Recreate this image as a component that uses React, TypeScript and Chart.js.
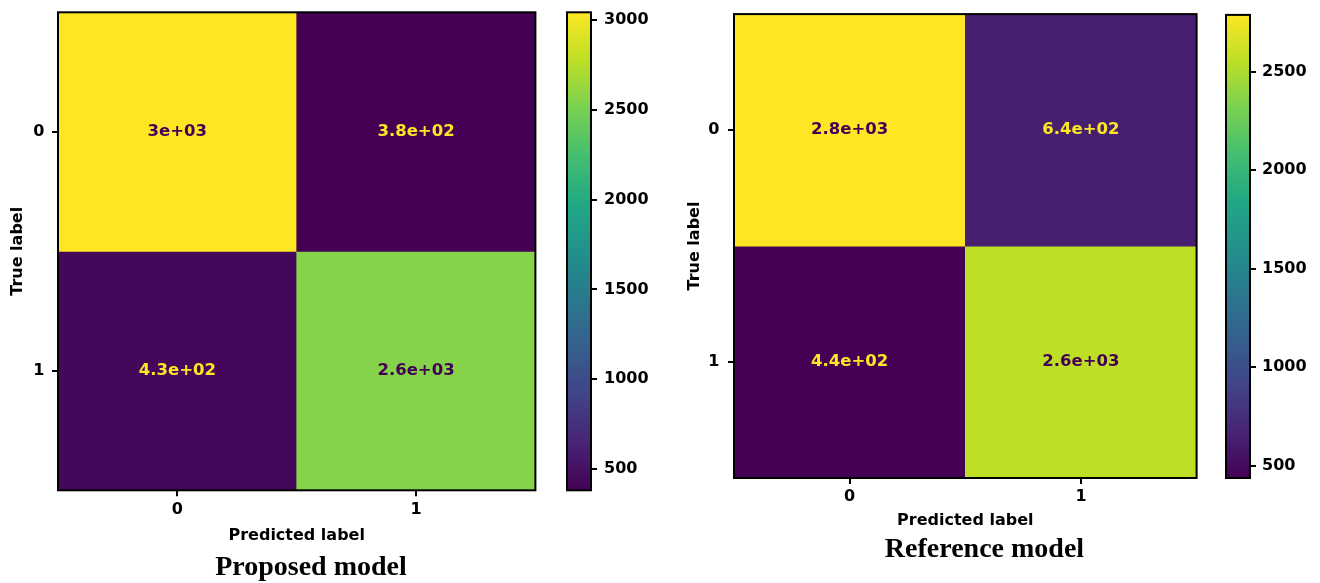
import React, { useEffect, useRef } from "react";
import { Chart, registerables } from "chart.js";

Chart.register(...registerables);

// ---------- data ----------
const predictedLabels = ["0", "1"];
const trueLabels = ["0", "1"];

const proposedRow0 = [3041, 383];
const proposedRow1 = [428, 2555];
const referenceRow0 = [2789, 641];
const referenceRow1 = [438, 2555];

const proposedColorbarTicks = [500, 1000, 1500, 2000, 2500, 3000];
const referenceColorbarTicks = [500, 1000, 1500, 2000, 2500];

const proposedCaption = "Proposed model";
const referenceCaption = "Reference model";
const xAxisTitle = "Predicted label";
const yAxisTitle = "True label";

// ---------- style ----------
const VIRIDIS = [
  "#440154", "#482475", "#414487", "#355f8d", "#2a788e", "#21918c",
  "#22a884", "#44bf70", "#7ad151", "#bddf26", "#fde725",
];
const FONT_FAMILY = "'DejaVu Sans', sans-serif";

function hexToRgb(h: string) {
  const n = parseInt(h.slice(1), 16);
  return [(n >> 16) & 255, (n >> 8) & 255, n & 255];
}
function viridis(t: number) {
  const c = Math.max(0, Math.min(1, t)) * (VIRIDIS.length - 1);
  const i = Math.min(Math.floor(c), VIRIDIS.length - 2);
  const f = c - i;
  const a = hexToRgb(VIRIDIS[i]);
  const b = hexToRgb(VIRIDIS[i + 1]);
  const m = a.map((v, k) => Math.round(v + (b[k] - v) * f));
  return `rgb(${m[0]},${m[1]},${m[2]})`;
}
function fmt2g(v: number) {
  const e = Math.floor(Math.log10(Math.abs(v)));
  if (e >= -4 && e < 2) return String(Number(v.toPrecision(2)));
  const [mant, ex] = v.toExponential(1).split("e");
  const m = mant.replace(/\.?0+$/, "");
  const sign = ex[0] === "-" ? "-" : "+";
  const digits = ex.replace(/[+-]/, "").padStart(2, "0");
  return `${m}e${sign}${digits}`;
}

const framePlugin = {
  id: "frame",
  afterDraw(chart: any) {
    const { ctx, chartArea } = chart;
    ctx.save();
    ctx.strokeStyle = "#000";
    ctx.lineWidth = 2;
    ctx.strokeRect(chartArea.left, chartArea.top, chartArea.right - chartArea.left, chartArea.bottom - chartArea.top);
    ctx.restore();
  },
};

const cellTextPlugin = {
  id: "cellText",
  afterDatasetsDraw(chart: any) {
    const { ctx } = chart;
    const all: number[] = chart.data.datasets.flatMap((d: any) => d.values || []);
    if (!all.length) return;
    const min = Math.min(...all);
    const max = Math.max(...all);
    const thresh = (min + max) / 2;
    ctx.save();
    ctx.font = `bold 16.5px ${FONT_FAMILY}`;
    ctx.textAlign = "center";
    ctx.textBaseline = "middle";
    chart.data.datasets.forEach((ds: any, di: number) => {
      const meta = chart.getDatasetMeta(di);
      meta.data.forEach((el: any, i: number) => {
        const { x, y, base } = el.getProps(["x", "y", "base"], true);
        const v = ds.values[i];
        ctx.fillStyle = v < thresh ? VIRIDIS[VIRIDIS.length - 1] : VIRIDIS[0];
        ctx.fillText(fmt2g(v), x, (y + base) / 2);
      });
    });
    ctx.restore();
  },
};

const tickFont = { family: FONT_FAMILY, size: 16, weight: "bold" as const };
const tickGrid = {
  display: true,
  drawOnChartArea: false,
  drawTicks: true,
  tickLength: 6,
  color: "#000",
  lineWidth: 2,
  offset: false,
};

type HeatLayout = {
  yAxisWidth: number;
  padTop: number;
  padRight: number;
  padBottom: number;
  xTickPad: number;
  xTitlePad: number;
  yTickPad: number;
  yTitlePad: number;
};

function heatmapConfig(rows: number[][], L: HeatLayout) {
  const flat = rows.flat();
  const min = Math.min(...flat);
  const max = Math.max(...flat);
  const n = rows.length;
  const datasets = rows.map((row, r) => ({
    label: `True ${trueLabels[r]}`,
    data: row.map(() => [n - 1 - r, n - r]),
    values: row,
    backgroundColor: row.map((v) => viridis((v - min) / (max - min))),
    borderWidth: 0,
    grouped: false,
    barPercentage: 1,
    categoryPercentage: 1,
  }));
  return {
    type: "bar" as const,
    data: { labels: predictedLabels, datasets },
    options: {
      animation: false as const,
      responsive: false,
      layout: { padding: { left: 0, top: L.padTop, right: L.padRight, bottom: L.padBottom } },
      plugins: { legend: { display: false }, tooltip: { enabled: false }, title: { display: false } },
      scales: {
        x: {
          type: "category" as const,
          offset: true,
          grid: tickGrid,
          border: { display: false },
          afterFit: (s: any) => {
            s.paddingLeft = 0;
            s.paddingRight = 0;
          },
          ticks: { color: "#000", font: tickFont, padding: L.xTickPad, maxRotation: 0 },
          title: {
            display: true,
            text: xAxisTitle,
            color: "#000",
            font: tickFont,
            padding: { top: L.xTitlePad, bottom: 0 },
          },
        },
        y: {
          type: "linear" as const,
          min: 0,
          max: n,
          grid: tickGrid,
          border: { display: false },
          afterBuildTicks: (s: any) => {
            s.ticks = trueLabels.map((_, i) => ({ value: i + 0.5 }));
          },
          afterFit: (s: any) => {
            s.width = L.yAxisWidth;
            s.paddingTop = 0;
            s.paddingBottom = 0;
          },
          ticks: {
            color: "#000",
            font: tickFont,
            padding: L.yTickPad,
            callback: (v: any) => trueLabels[n - 1 - Math.floor(Number(v))],
          },
          title: {
            display: true,
            text: yAxisTitle,
            color: "#000",
            font: tickFont,
            padding: { top: L.yTitlePad, bottom: 0 },
          },
        },
      },
    },
    plugins: [cellTextPlugin, framePlugin],
  };
}

type BarLayout = { padLeft: number; padTop: number; padBottom: number; axisWidth: number; tickPad: number };

function colorbarConfig(rows: number[][], ticks: number[], L: BarLayout) {
  const flat = rows.flat();
  const min = Math.min(...flat);
  const max = Math.max(...flat);
  return {
    type: "bar" as const,
    data: {
      labels: [""],
      datasets: [
        {
          data: [[min, max]],
          backgroundColor: (c: any) => {
            const ca = c.chart.chartArea;
            if (!ca) return VIRIDIS[0];
            const g = c.chart.ctx.createLinearGradient(0, ca.bottom, 0, ca.top);
            VIRIDIS.forEach((col, i) => g.addColorStop(i / (VIRIDIS.length - 1), col));
            return g;
          },
          borderWidth: 0,
          barPercentage: 1,
          categoryPercentage: 1,
        },
      ],
    },
    options: {
      animation: false as const,
      responsive: false,
      layout: { padding: { left: L.padLeft, top: L.padTop, right: 0, bottom: L.padBottom } },
      plugins: { legend: { display: false }, tooltip: { enabled: false } },
      scales: {
        x: { display: false },
        y: {
          type: "linear" as const,
          position: "right" as const,
          min,
          max,
          grid: tickGrid,
          border: { display: false },
          afterBuildTicks: (s: any) => {
            s.ticks = ticks.map((v) => ({ value: v }));
          },
          afterFit: (s: any) => {
            s.width = L.axisWidth;
            s.paddingTop = 0;
            s.paddingBottom = 0;
          },
          ticks: { color: "#000", font: tickFont, padding: L.tickPad, callback: (v: any) => String(v) },
        },
      },
    },
    plugins: [framePlugin],
  };
}

function ChartCanvas({ config, left, top, width, height }: any) {
  const ref = useRef<HTMLCanvasElement>(null);
  useEffect(() => {
    if (!ref.current) return;
    const chart = new Chart(ref.current, config);
    return () => chart.destroy();
  }, []);
  return (
    <canvas
      ref={ref}
      width={width}
      height={height}
      style={{ position: "absolute", left, top, width, height }}
    />
  );
}

function Caption({ text, cx, top }: { text: string; cx: number; top: number }) {
  return (
    <div
      style={{
        position: "absolute",
        left: cx - 200,
        top,
        width: 400,
        textAlign: "center",
        fontFamily: "'Liberation Serif', 'Times New Roman', serif",
        fontWeight: "bold",
        fontSize: 28,
        lineHeight: "28px",
        whiteSpace: "nowrap",
        color: "#000",
      }}
    >
      {text}
    </div>
  );
}

export default function App() {
  const proposedRows = [proposedRow0, proposedRow1];
  const referenceRows = [referenceRow0, referenceRow1];

  const leftHeat = heatmapConfig(proposedRows, {
    yAxisWidth: 58,
    padTop: 12.3,
    padRight: 24.6,
    padBottom: 37.7,
    xTickPad: 3.8,
    xTitlePad: 3,
    yTickPad: 7.5,
    yTitlePad: 8.4,
  });
  const leftBar = colorbarConfig(proposedRows, proposedColorbarTicks, {
    padLeft: 7,
    padTop: 12.3,
    padBottom: 92.7,
    axisWidth: 69,
    tickPad: 7,
  });
  const rightHeat = heatmapConfig(referenceRows, {
    yAxisWidth: 74,
    padTop: 14.1,
    padRight: 23.4,
    padBottom: 52.6,
    xTickPad: 3.1,
    xTitlePad: 1.8,
    yTickPad: 8.5,
    yTitlePad: 25.2,
  });
  const rightBar = colorbarConfig(referenceRows, referenceColorbarTicks, {
    padLeft: 6,
    padTop: 14.9,
    padBottom: 105,
    axisWidth: 70,
    tickPad: 6,
  });

  return (
    <div
      style={{
        position: "absolute",
        left: 0,
        top: 0,
        width: 1320,
        height: 583,
        background: "#fff",
        overflow: "hidden",
      }}
    >
      <ChartCanvas config={leftHeat} left={0} top={0} width={560} height={583} />
      <ChartCanvas config={leftBar} left={560} top={0} width={100} height={583} />
      <ChartCanvas config={rightHeat} left={660} top={0} width={560} height={583} />
      <ChartCanvas config={rightBar} left={1220} top={0} width={100} height={583} />
      <Caption text={proposedCaption} cx={311} top={552} />
      <Caption text={referenceCaption} cx={984.5} top={534} />
    </div>
  );
}
